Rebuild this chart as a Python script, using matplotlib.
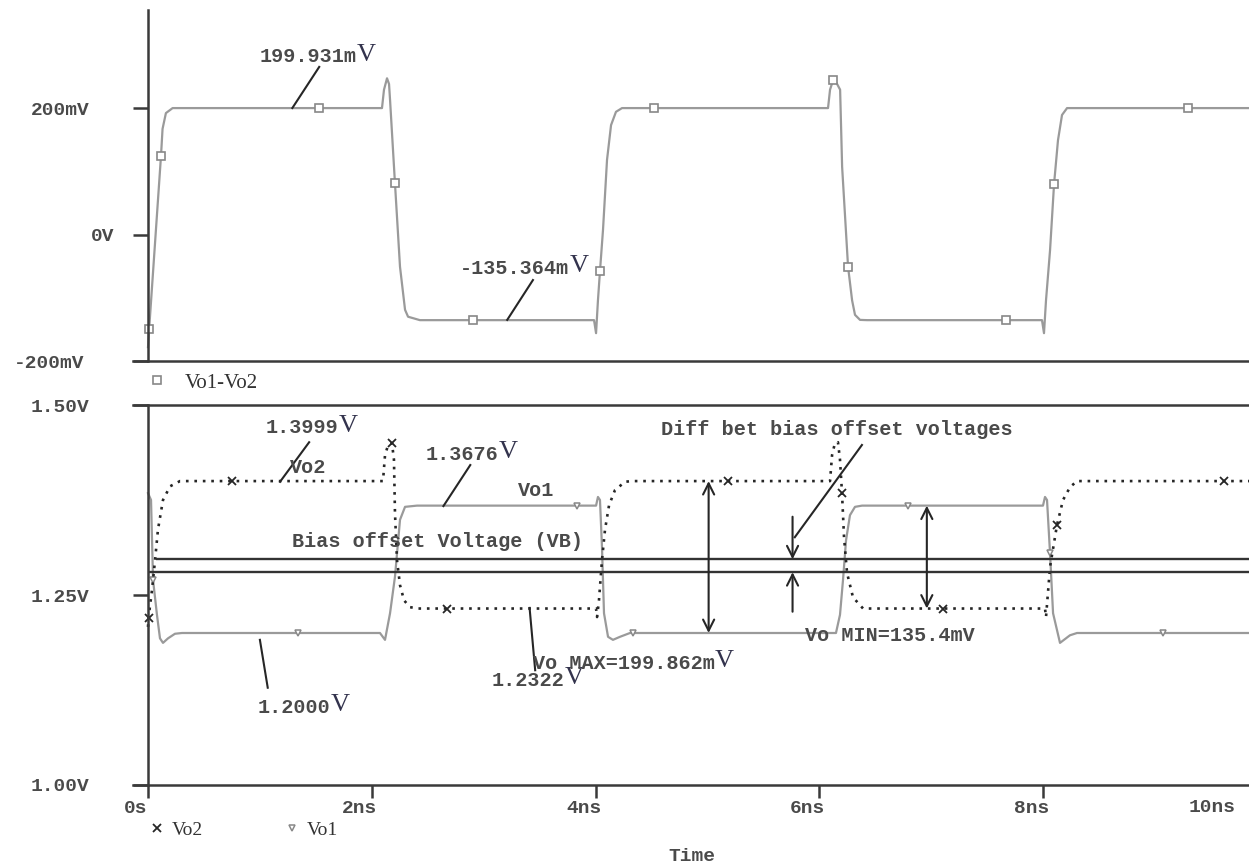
import matplotlib
matplotlib.use("Agg")
import matplotlib.pyplot as plt
import matplotlib.transforms as mtransforms
from matplotlib.lines import Line2D

MONO = "Liberation Mono"
SERIF = "Liberation Serif"
TXT = "#4a4a4a"
GRAY = "#9a9a9a"
INK = "#262626"

# Vo1-Vo2 differential output, time in ns, voltage in mV
diff_t = [0.0, 0.01, 0.116, 0.13, 0.16, 0.22,
          2.091, 2.109, 2.136, 2.154, 2.163, 2.207, 2.252, 2.297, 2.324, 2.43,
          3.986, 4.004, 4.021, 4.039, 4.066, 4.102, 4.138, 4.182, 4.236,
          6.077, 6.095, 6.122, 6.149, 6.185, 6.203, 6.256, 6.292, 6.318, 6.363, 6.425,
          7.989, 8.007, 8.025, 8.061, 8.097, 8.132, 8.168, 8.213,
          9.9]
diff_v = [-178, -150, 124, 167, 192, 199.9,
          199.9, 229, 247, 238, 213, 81, -51, -119, -130, -135.4,
          -135.4, -156, -104, -58, 7, 118, 173, 194, 199.9,
          199.9, 229, 244, 241, 229, 107, -51, -104, -127, -135, -135.4,
          -135.4, -156, -104, -25, 80, 149, 189, 199.9,
          199.9]
diff_mark_t = [0.01, 0.116, 1.53, 2.207, 2.9, 4.039, 4.52, 6.122, 6.256, 7.67, 8.097, 9.29]
diff_mark_v = [-150, 124, 199.9, 81, -135.4, -58, 199.9, 244, -51, -135.4, 80, 199.9]

# Vo1 single-ended output (V)
vo1_t = [0.0, 0.027, 0.045, 0.08, 0.107, 0.134, 0.179, 0.241, 0.304,
         2.073, 2.118, 2.163, 2.207, 2.252, 2.297, 2.404,
         4.004, 4.021, 4.039, 4.057, 4.075, 4.111, 4.155, 4.218, 4.307,
         6.148, 6.184, 6.211, 6.238, 6.273, 6.318, 6.381,
         7.998, 8.016, 8.034, 8.061, 8.088, 8.15, 8.239, 8.302,
         9.9]
vo1_v = [1.384, 1.375, 1.27, 1.224, 1.193, 1.187, 1.193, 1.199, 1.2,
         1.2, 1.191, 1.226, 1.274, 1.349, 1.366, 1.3676,
         1.3676, 1.379, 1.375, 1.313, 1.226, 1.195, 1.191, 1.195, 1.2,
         1.2, 1.224, 1.27, 1.322, 1.355, 1.366, 1.3676,
         1.3676, 1.379, 1.375, 1.305, 1.226, 1.187, 1.197, 1.2,
         1.2]
vo1_mark_t = [0.045, 1.34, 3.83, 4.33, 6.79, 8.061, 9.07]
vo1_mark_v = [1.27, 1.2, 1.3676, 1.2, 1.3676, 1.305, 1.2]

# Vo2 single-ended output (V)
vo2_t = [0.0, 0.005, 0.036, 0.063, 0.089, 0.134, 0.197, 0.286,
         2.1, 2.118, 2.145, 2.18, 2.198, 2.207, 2.225, 2.252, 2.288, 2.341, 2.413,
         4.004, 4.013, 4.03, 4.057, 4.084, 4.12, 4.173, 4.263, 4.325,
         6.095, 6.113, 6.139, 6.166, 6.184, 6.202, 6.22, 6.247, 6.3, 6.39,
         8.016, 8.025, 8.061, 8.123, 8.177, 8.24, 8.302,
         9.9]
vo2_v = [1.208, 1.22, 1.257, 1.296, 1.336, 1.375, 1.393, 1.3999,
         1.3999, 1.434, 1.447, 1.45, 1.428, 1.358, 1.296, 1.263, 1.243, 1.234, 1.2322,
         1.2322, 1.221, 1.243, 1.296, 1.336, 1.368, 1.388, 1.399, 1.3999,
         1.3999, 1.434, 1.45, 1.451, 1.428, 1.384, 1.326, 1.279, 1.247, 1.2322,
         1.2322, 1.221, 1.287, 1.342, 1.375, 1.392, 1.3999,
         1.3999]
vo2_mark_t = [0.005, 0.75, 2.18, 2.67, 5.18, 6.202, 7.1, 8.123, 9.62]
vo2_mark_v = [1.22, 1.3999, 1.45, 1.2322, 1.3999, 1.384, 1.2322, 1.342, 1.3999]

# bias offset voltage levels (V) and where each line starts (ns)
bias_levels = [1.297, 1.280]
bias_start = [0.07, 0.0]

vo_max_t, vo_max_span = 5.01, (1.3999, 1.2000)
vo_min_t, vo_min_span = 6.96, (1.3676, 1.2322)
diff_arrow_t = 5.76
diff_arrow_down = (1.353, 1.297)
diff_arrow_up = (1.228, 1.280)

top_ticks = [-200, 0, 200]
top_labels = ["-200mV", "0V", "200mV"]
top_pads = [35, 13, 31]
bot_ticks = [1.0, 1.25, 1.5]
bot_labels = ["1.00V", "1.25V", "1.50V"]
x_ticks = [0, 2, 4, 6, 8]
x_labels = ["0s", "2ns", "4ns", "6ns", "8ns"]

XMIN, XMAX = -0.134, 9.839

fig = plt.figure(figsize=(12.49, 8.67), dpi=100)
ax1 = fig.add_axes([0.10649, 0.58362, 0.89351, 0.40485])
ax2 = fig.add_axes([0.10649, 0.09458, 0.89351, 0.43829])

for ax in (ax1, ax2):
    ax.set_xlim(XMIN, XMAX)
    ax.spines["right"].set_visible(False)
    ax.spines["left"].set_position(("data", 0))
    for s in ("left", "bottom", "top"):
        ax.spines[s].set_color("#3a3a3a")
        ax.spines[s].set_linewidth(1.8)
    ax.tick_params(axis="y", direction="out", length=11, width=1.8,
                   color="#3a3a3a", labelsize=14, labelcolor=TXT)
    ax.patch.set_alpha(0)

ax1.spines["top"].set_visible(False)
ax1.set_ylim(-200, 355)
ax2.set_ylim(1.0, 1.5)

# ---- top panel: differential output
ax1.plot(diff_t, diff_v, color=GRAY, lw=1.6)
ax1.plot(diff_mark_t, diff_mark_v, "s", ms=6, mfc="white", mec="#888888", mew=1.2)

ax1.set_yticks(top_ticks, top_labels)
ax1.tick_params(axis="x", length=0, labelbottom=False)
for tk, p in zip(ax1.yaxis.get_major_ticks(), top_pads):
    tk.set_pad(p)
for lab in ax1.get_yticklabels():
    lab.set_fontfamily(MONO)
    lab.set_fontweight("bold")


def value_label(ax, x, y, num):
    t = ax.text(x, y, num, family=MONO, weight="bold", fontsize=14.5,
                color=TXT, ha="left", va="center")
    ax.annotate("V", xy=(1, 0.6), xycoords=t, ha="left", va="center",
                family=SERIF, fontsize=19, color="#33334d")
    return t


value_label(ax1, 1.0, 281, "199.931m")
ax1.plot([1.53, 1.29], [265, 200], color=INK, lw=1.5)
value_label(ax1, 2.79, -53, "-135.364m")
ax1.plot([3.44, 3.21], [-72, -135], color=INK, lw=1.5)

# ---- bottom panel: single ended outputs
ax2.plot(vo1_t, vo1_v, color=GRAY, lw=1.6)
ax2.plot(vo1_mark_t, vo1_mark_v, "v", ms=5, mfc="white", mec="#888888", mew=1.1)
ax2.plot(vo2_t, vo2_v, color=INK, lw=1.9, ls=(0, (1, 2.2)))
ax2.plot(vo2_mark_t, vo2_mark_v, "x", ms=6, color=INK, mew=1.3)

for lvl, x0 in zip(bias_levels, bias_start):
    ax2.hlines(lvl, x0, XMAX, color="#333333", lw=1.7)

arrow = dict(arrowstyle="<->", color=INK, lw=1.5, mutation_scale=20,
             shrinkA=0, shrinkB=0)
ax2.annotate("", xy=(vo_max_t, vo_max_span[0]), xytext=(vo_max_t, vo_max_span[1]),
             arrowprops=arrow)
ax2.annotate("", xy=(vo_min_t, vo_min_span[0]), xytext=(vo_min_t, vo_min_span[1]),
             arrowprops=arrow)
one_way = dict(arrow, arrowstyle="->")
ax2.annotate("", xy=(diff_arrow_t, diff_arrow_down[1]),
             xytext=(diff_arrow_t, diff_arrow_down[0]), arrowprops=one_way)
ax2.annotate("", xy=(diff_arrow_t, diff_arrow_up[1]),
             xytext=(diff_arrow_t, diff_arrow_up[0]), arrowprops=one_way)
ax2.plot([6.38, 5.78], [1.4474, 1.326], color=INK, lw=1.5)

value_label(ax2, 1.05, 1.47, "1.3999")
ax2.plot([1.44, 1.18], [1.451, 1.399], color=INK, lw=1.5)
value_label(ax2, 2.48, 1.4355, "1.3676")
ax2.plot([2.88, 2.64], [1.421, 1.367], color=INK, lw=1.5)
value_label(ax2, 0.98, 1.1026, "1.2000")
ax2.plot([1.07, 1.0], [1.128, 1.191], color=INK, lw=1.5)
value_label(ax2, 3.07, 1.138, "1.2322")
ax2.plot([3.46, 3.41], [1.151, 1.233], color=INK, lw=1.5)
value_label(ax2, 3.44, 1.1605, "Vo MAX=199.862m")

note = dict(family=MONO, weight="bold", fontsize=14.5, color=TXT,
            ha="left", va="center")
ax2.text(1.27, 1.418, "Vo2", **note)
ax2.text(3.31, 1.388, "Vo1", **note)
ax2.text(1.29, 1.32, "Bias offset Voltage (VB)", **note)
ax2.text(4.58, 1.468, "Diff bet bias offset voltages", **note)
ax2.text(5.87, 1.197, "Vo MIN=135.4mV", **note)

ax2.set_yticks(bot_ticks, bot_labels)
for tk in ax2.yaxis.get_major_ticks():
    tk.set_pad(31)
for lab in ax2.get_yticklabels():
    lab.set_fontfamily(MONO)
    lab.set_fontweight("bold")

ax2.set_xticks(x_ticks, x_labels)
ax2.tick_params(axis="x", direction="out", length=9, width=1.8, color="#3a3a3a",
                pad=1.8, labelsize=14, labelcolor=TXT)
shift = mtransforms.ScaledTranslation(-0.12, 0, fig.dpi_scale_trans)
for lab in ax2.get_xticklabels():
    lab.set_fontfamily(MONO)
    lab.set_fontweight("bold")
    lab.set_transform(lab.get_transform() + shift)
ax2.annotate("10ns", xy=(1, 0), xycoords="axes fraction", xytext=(-9.5, -16),
             textcoords="offset points", ha="right", va="center",
             family=MONO, weight="bold", fontsize=14, color=TXT)

ax2.set_xlabel("Time", family=MONO, weight="bold", fontsize=14, color=TXT)
ax2.xaxis.set_label_coords(0.501, -0.166)

# trace legends
leg_font = dict(family=SERIF, size=15)
h_diff = Line2D([], [], ls="none", marker="s", ms=6, mfc="white", mec="#888888", mew=1.2)
fig.legend([h_diff], ["Vo1-Vo2"], loc="center left",
           bbox_to_anchor=(147 / 1249, 1 - 383 / 867), frameon=False,
           borderpad=0, borderaxespad=0, handlelength=1.0, handletextpad=0.8,
           prop=leg_font, labelcolor="#333333")
h_vo2 = Line2D([], [], ls="none", marker="x", ms=6, color=INK, mew=1.3)
h_vo1 = Line2D([], [], ls="none", marker="v", ms=5, mfc="white", mec="#888888", mew=1.1)
fig.legend([h_vo2, h_vo1], ["Vo2", "Vo1"], loc="center left", ncol=2,
           bbox_to_anchor=(147 / 1249, 1 - 830 / 867), frameon=False,
           borderpad=0, borderaxespad=0, handlelength=1.0, handletextpad=0.25,
           columnspacing=4.1, prop=dict(family=SERIF, size=14), labelcolor="#333333")

fig.savefig("out.png", dpi=100)
